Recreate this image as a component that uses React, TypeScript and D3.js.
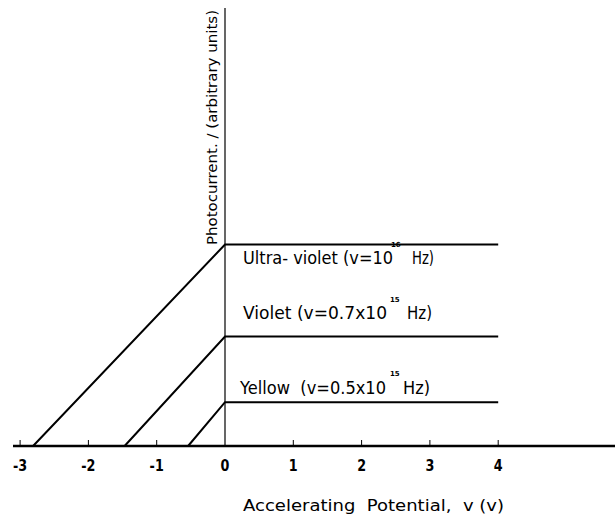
import React from "react";
import * as d3 from "d3";

const xTicks = [-3, -2, -1, 0, 1, 2, 3, 4];
const seriesNames = ["Ultra-violet", "Violet", "Yellow"];
const stoppingPotentials = [-2.81, -1.47, -0.54];
const saturationCurrents = [4.6, 2.5, 1.0];
const xEnd = 4;
const labelMain = ["Ultra- violet (v=10", "Violet (v=0.7x10", "Yellow  (v=0.5x10"];
const labelExp = ["16", "15", "15"];
const xTitle = "Accelerating  Potential,  v (v)";
const yTitle = "Photocurrent. / (arbitrary units)";

export default function App() {
  const W = 615, H = 514;
  const x = d3.scaleLinear().domain([0, 1]).range([225, 293.3]);
  const y = d3.scaleLinear().domain([0, 10]).range([446, 8]);
  const line = d3.line<[number, number]>().x(d => x(d[0])).y(d => y(d[1]));
  const font = "'DejaVu Sans', sans-serif";
  const lab = [
    { x: 243, y: 264, w: 150, ex: 391, ey: 247, hx: 412, hw: 22 },
    { x: 243, y: 319, w: 144, ex: 390, ey: 302, hx: 407, hw: 25 },
    { x: 240, y: 394, w: 146, ex: 390, ey: 376, hx: 403, hw: 27 },
  ];
  const pre = { whiteSpace: "pre" as const };
  return (
    <svg width={W} height={H} style={{ position: "absolute", left: 0, top: 0, background: "#fff" }}>
      <line x1={13} x2={615} y1={y(0)} y2={y(0)} stroke="#000" strokeWidth={2.5} />
      {xTicks.map(t => (
        <g key={t}>
          {t !== 0 && <line x1={x(t)} x2={x(t)} y1={y(0)} y2={y(0) - 6} stroke="#000" strokeWidth={1} />}
          <text x={x(t)} y={y(0) + 25} textAnchor="middle" fontFamily={font} fontSize={15} fontWeight="bold" transform={`translate(${x(t)},0) scale(0.85,1) translate(${-x(t)},0)`}>{t}</text>
        </g>
      ))}
      <line x1={x(0)} x2={x(0)} y1={y(10)} y2={y(0)} stroke="#000" strokeWidth={1.2} />
      {seriesNames.map((n, i) => (
        <path key={n} d={line([[stoppingPotentials[i], 0], [0, saturationCurrents[i]], [xEnd, saturationCurrents[i]]]) || ""}
          fill="none" stroke="#000" strokeWidth={2} />
      ))}
      {labelMain.map((l, i) => (
        <g key={l}>
          <text x={lab[i].x} y={lab[i].y} fontFamily={font} fontSize={17.5} style={pre} textLength={lab[i].w} lengthAdjust="spacingAndGlyphs">{l}</text>
          <text x={lab[i].ex} y={lab[i].ey} fontFamily={font} fontSize={7} fontWeight="bold">{labelExp[i]}</text>
          <text x={lab[i].hx} y={lab[i].y} fontFamily={font} fontSize={17.5} textLength={lab[i].hw} lengthAdjust="spacingAndGlyphs">Hz)</text>
        </g>
      ))}
      <text x={243} y={511} fontFamily={font} fontSize={15} style={pre} textLength={261} lengthAdjust="spacingAndGlyphs">{xTitle}</text>
      <text transform={`translate(217,245) rotate(-90)`} fontFamily={font} fontSize={14.5} textLength={235} lengthAdjust="spacingAndGlyphs">{yTitle}</text>
    </svg>
  );
}
